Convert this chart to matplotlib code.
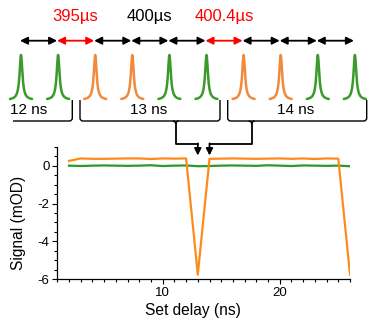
import numpy as np
import matplotlib
matplotlib.use("Agg")
import matplotlib.pyplot as plt
from matplotlib.path import Path
from matplotlib.patches import PathPatch

plt.rcParams['font.family'] = ['Liberation Sans', 'DejaVu Sans']
plt.rcParams['axes.unicode_minus'] = False

# data
delay = [2, 3, 4, 5, 6, 7, 8, 9, 10, 11, 12, 13, 14, 15, 16, 17, 18, 19, 20, 21, 22, 23, 24, 25, 26]
sig_orange = [0.25, 0.38, 0.36, 0.36, 0.37, 0.38, 0.38, 0.35, 0.38, 0.37, 0.38, -5.75, 0.36,
              0.37, 0.38, 0.37, 0.36, 0.37, 0.38, 0.36, 0.38, 0.35, 0.38, 0.37, -5.75]
sig_green = [0.0, -0.02, 0.0, 0.01, 0.0, -0.01, 0.0, 0.02, -0.02, 0.0, 0.01, -0.03, -0.02,
             0.0, 0.01, 0.0, -0.01, 0.02, 0.0, -0.02, 0.01, 0.0, -0.01, 0.0, -0.03]
pulse_kind = ['g', 'g', 'o', 'o', 'g', 'g', 'o', 'o', 'g', 'g']
interval_red = [False, True, False, False, False, True, False, False, False]
interval_labels = [(1, '395µs', 'red'), (3, '400µs', 'black'), (5, '400.4µs', 'red')]
brace_labels = ['12 ns', '13 ns', '14 ns']
marked_delays = [13, 14]

ORANGE = '#ff8a1c'
GREEN = '#2a9a2a'
P_ORANGE = '#f08a3c'
P_GREEN = '#3a9a2a'

W, H = 374, 327
fig = plt.figure(figsize=(W / 100, H / 100), dpi=100)

# main plot, placed in pixel coordinates
L, R, T, B = 57.3, 350, 146.7, 279.3
ax = fig.add_axes([L / W, 1 - B / H, (R - L) / W, (B - T) / H])
ax.plot(delay, sig_green, color=GREEN, lw=1.6)
ax.plot(delay, sig_orange, color=ORANGE, lw=1.6)
ax.set_xlim(1, 26)
ax.set_ylim(-6, 1)
ax.set_xticks([10, 20])
ax.set_xticks(np.arange(1, 27), minor=True)
ax.set_yticks([0, -2, -4, -6])
ax.set_yticks(np.arange(-6, 1.01, 0.5), minor=True)
for s in ['top', 'right']:
    ax.spines[s].set_visible(False)
for s in ['left', 'bottom']:
    ax.spines[s].set_linewidth(0.9)
ax.tick_params(which='major', direction='out', length=3.5, width=0.8, labelsize=9.5, pad=2)
ax.tick_params(which='minor', direction='out', length=2.5, width=0.8)
ax.patch.set_alpha(0)

fig.text(19 / W, 1 - 223 / H, 'Signal (mOD)', rotation=90, ha='center', va='center', fontsize=11.2)
fig.text(193 / W, 1 - 311 / H, 'Set delay (ns)', ha='center', va='center', fontsize=11.2)

# overlay in pixel coordinates for the pulse diagram
ov = fig.add_axes([0, 0, 1, 1])
ov.set_xlim(0, W)
ov.set_ylim(H, 0)
ov.axis('off')
ov.patch.set_alpha(0)

x0, step = 21.0, 37.1
px = [x0 + i * step for i in range(len(pulse_kind))]

# interval arrows
ya = 40.7
for i, red in enumerate(interval_red):
    c = 'red' if red else 'black'
    ov.annotate('', xy=(px[i + 1] - 1, ya), xytext=(px[i] - 1, ya),
                arrowprops=dict(arrowstyle='<|-|>', color=c, lw=1.3,
                                mutation_scale=11, shrinkA=0, shrinkB=0))
for i, txt, c in interval_labels:
    ov.text((px[i] + px[i + 1]) / 2 - 1, 17, txt, color=c, ha='center', va='center', fontsize=12)

# pulses
xx = np.linspace(-11, 11, 200)
g = 1.7
shape = g ** 2 / (xx ** 2 + g ** 2)
for p, k in zip(px, pulse_kind):
    ov.plot(p + xx, 100 - 45 * shape, color=P_GREEN if k == 'g' else P_ORANGE, lw=1.8,
            solid_capstyle='round')


def brace(xl, xr, xt, yb=121, ytop=100, r=3, left=True):
    # outer curve of the brace
    if left:
        verts = [(xl, ytop), (xl, yb - r), (xl, yb), (xl + r, yb)]
        codes = [Path.MOVETO, Path.LINETO, Path.CURVE3, Path.CURVE3]
    else:
        verts = [(xl, yb)]
        codes = [Path.MOVETO]
    verts += [(xr - r, yb), (xr, yb), (xr, yb - r), (xr, ytop)]
    codes += [Path.LINETO, Path.CURVE3, Path.CURVE3, Path.LINETO]
    ov.add_patch(PathPatch(Path(verts, codes), fill=False, lw=1.0, ec='black'))
    if xt is not None:
        # small tip in the middle
        tip = Path([(xt - r, yb), (xt, yb), (xt, yb + r), (xt, yb), (xt + r, yb)],
                   [Path.MOVETO, Path.CURVE3, Path.CURVE3, Path.CURVE3, Path.CURVE3])
        ov.add_patch(PathPatch(tip, fill=False, lw=1.0, ec='black'))


brace(13, 72.3, None, left=False)
brace(80, 220, 175.7)
brace(227.7, 366.7, 251.7)
for xc, txt in zip([28.5, 149, 296], brace_labels):
    ov.text(xc, 110, txt, ha='center', va='center', fontsize=11)


# connectors from the braces down to the marked delays
def data_x(v):
    return L + (v - 1) / (26 - 1) * (R - L)


yh = 144
for xs, d in zip([175.7, 251.7], marked_delays):
    xd = data_x(d)
    ov.plot([xs, xs, xd], [124, yh, yh], color='black', lw=1.3)
    ov.annotate('', xy=(xd, 155.5), xytext=(xd, yh - 0.6),
                arrowprops=dict(arrowstyle='-|>', color='black', lw=1.3,
                                mutation_scale=10, shrinkA=0, shrinkB=0))

fig.savefig('out.png', dpi=100)
